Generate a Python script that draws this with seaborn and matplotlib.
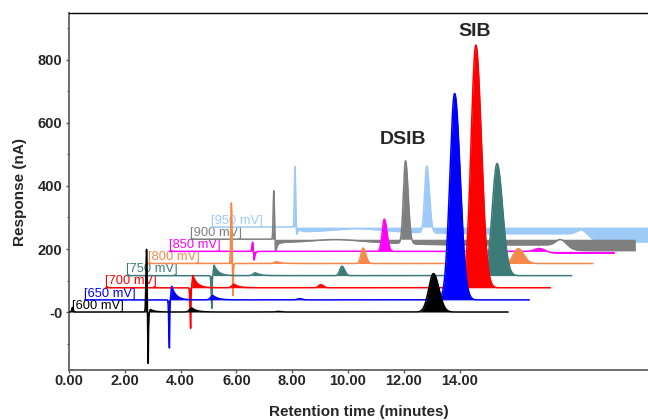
import numpy as np
import pandas as pd
import matplotlib
matplotlib.use("Agg")
import matplotlib.pyplot as plt
import seaborn as sns
from matplotlib.ticker import FixedLocator, FixedFormatter

# ---- data -----------------------------------------------------------------
voltages = [600, 650, 700, 750, 800, 850, 900, 950]
trace_labels = ["[600 mV]", "[650 mV]", "[700 mV]", "[750 mV]",
                "[800 mV]", "[850 mV]", "[900 mV]", "[950 mV]"]
trace_colors = ["#000000", "#0000ff", "#ff0000", "#3d7b78",
                "#f5884a", "#ff00ff", "#7f7f7f", "#9dcaf7"]

# waterfall offsets between successive potentials
shift_time = 0.76    # min
shift_resp = 38.5    # nA

run_start, run_end = -0.2, 15.74   # min, per run

# retention times (min, within each run)
t_spike_up, t_spike_down, t_post = 2.78, 2.84, 2.92
t_bump, t_dsib, t_sib = 4.40, 7.50, 13.06

# peak heights (nA above each run's baseline)
start_mark = [15, 0, 0, 0, 0, 0, 0, 0]
spike_up = [203, 0, 0, 0, 195, 30, 155, 193]
spike_down = [-168, -153, -129, -104, -107, -28, -41, -26]
spike_down_tau = [0.01, 0.01, 0.01, 0.01, 0.01, 0.03, 0.08, 0.05]
post_peak = [8, 43, 39, 33, 0, 0, 0, 0]
bump_height = [13, 14, 11, 9, 6, 0, 0, 0]
dsib_height = [2, 4, 10, 30, 49, 102, 263, 212]
sib_height = [122, 655, 770, 356, 47, 10, 20, 16]

# baseline drift (nA) at high potentials
drift_inject = [0, 0, 0, 0, 0, 0, -10, -15]
drift_hump = [0, 0, 0, 0, 0, 0, 9, 10]
drift_mid = [0, 0, 0, 0, 0, 0, -8, -6]
drift_late = [0, 0, 0, 0, 0, -6, -18, -26]

x_ticks = [0, 2, 4, 6, 8, 10, 12, 14]
x_tick_labels = ["0.00", "2.00", "4.00", "6.00", "8.00", "10.00", "12.00", "14.00"]
y_ticks = [0, 200, 400, 600, 800]
y_tick_labels = ["-0", "200", "400", "600", "800"]
y_minor = [-100, 100, 300, 500, 700, 900]


# ---- peak shapes ----------------------------------------------------------
def tailed(t, t0, rise, tau):
    return np.where(t < t0, np.exp(-0.5 * ((t - t0) / rise) ** 2),
                    np.exp(-np.clip(t - t0, 0, None) / tau))


def asym(t, mu, sl, sr):
    s = np.where(t < mu, sl, sr)
    return np.exp(-0.5 * ((t - mu) / s) ** 2)


def step(t, t0, w):
    return 1.0 / (1.0 + np.exp(-(t - t0) / w))


t = np.arange(run_start, run_end, 0.004)

rows = []
for i, lab in enumerate(trace_labels):
    sig = (start_mark[i] * asym(t, 0.12, 0.02, 0.03)
           + spike_up[i] * asym(t, t_spike_up, 0.022, 0.022)
           + spike_down[i] * tailed(t, t_spike_down, 0.022, spike_down_tau[i])
           + post_peak[i] * tailed(t, t_post, 0.025, 0.16)
           + bump_height[i] * tailed(t, t_bump, 0.08, 0.18)
           + dsib_height[i] * asym(t, t_dsib, 0.075, 0.095)
           + sib_height[i] * asym(t, t_sib, 0.17, 0.2)
           + drift_inject[i] * step(t, 2.95, 0.05)
           + drift_hump[i] * asym(t, 5.0, 0.8, 0.8)
           + drift_mid[i] * step(t, 7.5, 0.6)
           + drift_late[i] * step(t, 13.3, 0.15))
    rows.append(pd.DataFrame({
        "trace": lab,
        "time": t + i * shift_time,
        "base": i * shift_resp,
        "response": i * shift_resp + sig,
    }))
df = pd.concat(rows, ignore_index=True)

# ---- figure ---------------------------------------------------------------
sns.set_theme(style="ticks")
plt.rcParams["font.family"] = ["Liberation Sans", "DejaVu Sans"]

fig = plt.figure(figsize=(6.48, 4.2), dpi=100)
ax = fig.add_axes([69 / 648, 50 / 420, 579 / 648, 357 / 420])

n = len(trace_labels)
for i in reversed(range(n)):
    d = df[df["trace"] == trace_labels[i]]
    z = 3 + (n - i) * 2
    ax.fill_between(d["time"], d["base"], d["response"],
                    color=trace_colors[i], lw=0, zorder=z)
    sns.lineplot(data=d, x="time", y="response", color=trace_colors[i],
                 lw=1.1, estimator=None, sort=False, ax=ax, zorder=z + 1)
    ax.text(max(i * shift_time - 0.22, 0.1), i * shift_resp + 1, trace_labels[i],
            color=trace_colors[i], fontsize=9.3, ha="left", va="bottom",
            zorder=2)

ax.text(14.55, 889, "SIB", fontsize=14, fontweight="bold",
        ha="center", va="center")
ax.text(11.98, 548, "DSIB", fontsize=14, fontweight="bold",
        ha="center", va="center")

ax.set_xlim(0, 20.75)
ax.set_ylim(-184, 949)

ax.xaxis.set_major_locator(FixedLocator(x_ticks))
ax.xaxis.set_major_formatter(FixedFormatter(x_tick_labels))
ax.yaxis.set_major_locator(FixedLocator(y_ticks))
ax.yaxis.set_major_formatter(FixedFormatter(y_tick_labels))
ax.yaxis.set_minor_locator(FixedLocator(y_minor))

for lbl in ax.get_xticklabels() + ax.get_yticklabels():
    lbl.set_fontweight("bold")
    lbl.set_fontsize(10.5)
ax.tick_params(axis="both", which="major", direction="out", length=2.2,
               width=1.0, color="#555555")
ax.tick_params(axis="y", which="major", pad=2.5)
ax.tick_params(axis="x", which="major", pad=1.0)
ax.tick_params(axis="y", which="minor", direction="out", length=1.6,
               width=0.8, color="#555555")

ax.set_xlabel("Retention time (minutes)", fontsize=11, fontweight="bold",
              labelpad=12)
ax.set_ylabel("Response (nA)", fontsize=11, fontweight="bold", labelpad=8)

ax.spines["right"].set_visible(False)
ax.spines["top"].set_color("#000000")
ax.spines["top"].set_linewidth(1.0)
for s in ("left", "bottom"):
    ax.spines[s].set_color("#555555")
    ax.spines[s].set_linewidth(1.2)

fig.savefig("out.png", dpi=100)
